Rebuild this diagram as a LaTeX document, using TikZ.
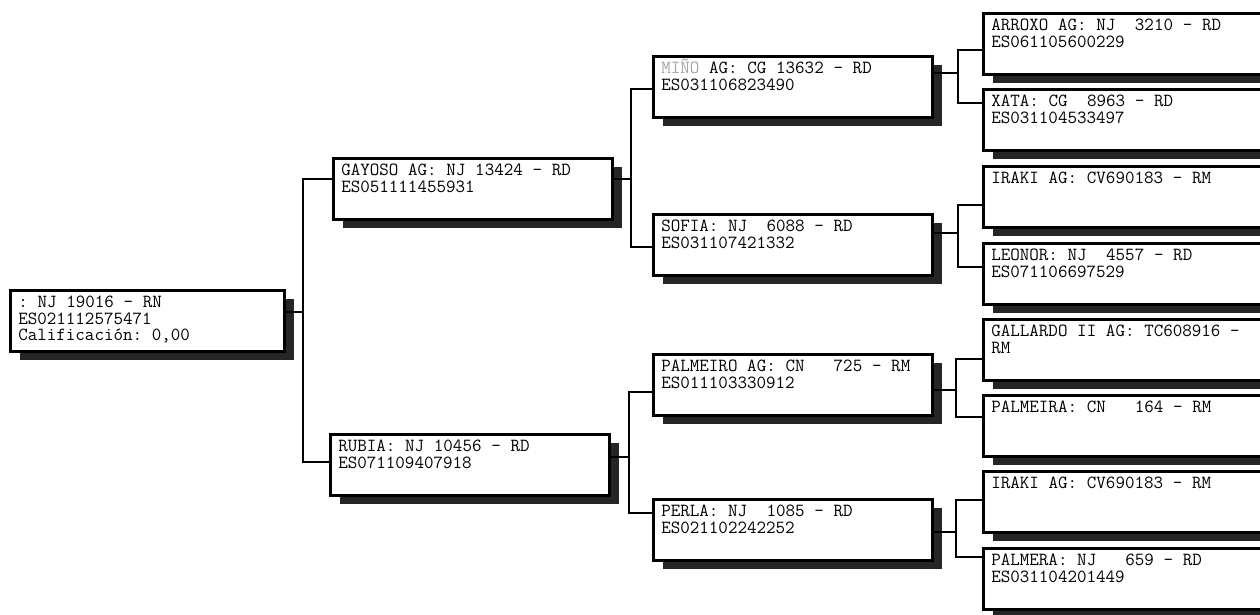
\documentclass[tikz,border=0pt]{standalone}
\usetikzlibrary{shadows}
\newcommand{\letraficha}{\ttfamily\fontsize{18.5}{16.7}\selectfont}
\newcommand{\espacioficha}{\spaceskip=0.525em\relax\xspaceskip=0.525em\relax}
\begin{document}
\begin{tikzpicture}[x=1pt,y=-1pt,line join=miter,every node/.style={font=\letraficha},
	ficha/.style={draw=black,line width=2.6pt,fill=white,anchor=north west,align=left,inner xsep=8pt,inner ysep=6pt,text width=#1,text height=11pt,text depth=38pt,execute at begin node=\espacioficha,drop shadow={shadow xshift=10pt,shadow yshift=-9pt,fill=black!85,opacity=1}},
	ficha/.default=263pt,
	rama/.style={line width=2pt}]
	\useasboundingbox (0,0) rectangle (1260,614);
	\clip (0,0) rectangle (1260,614);
	% animal
	\node[ficha=258pt] (raiz) at (9,289) {: NJ 19016 - RN\\ES021112575471\\Calificación: 0,00};
	% padres
	\node[ficha] (padre) at (332,157) {GAYOSO AG: NJ 13424 - RD\\ES051111455931};
	\node[ficha] (madre) at (329,433) {RUBIA: NJ 10456 - RD\\ES071109407918};
	% abuelos
	\node[ficha] (abPP) at (652,55) {{\color{gray!70}MIÑO} AG: CG 13632 - RD\\ES031106823490};
	\node[ficha] (abPM) at (652,213) {SOFIA: NJ~~6088 - RD\\ES031107421332};
	\node[ficha] (abMP) at (652,353) {PALMEIRO AG: CN~~~725 - RM\\ES011103330912};
	\node[ficha] (abMM) at (652,498) {PERLA: NJ~~1085 - RD\\ES021102242252};
	% bisabuelos
	\node[ficha=330pt] (bis1) at (982,12) {ARROXO AG: NJ~~3210 - RD\\ES061105600229};
	\node[ficha=330pt] (bis2) at (982,88) {XATA: CG~~8963 - RD\\ES031104533497};
	\node[ficha=330pt] (bis3) at (982,165) {IRAKI AG: CV690183 - RM};
	\node[ficha=330pt] (bis4) at (982,242) {LEONOR: NJ~~4557 - RD\\ES071106697529};
	\node[ficha=330pt] (bis5) at (982,318) {GALLARDO II AG: TC608916 -\\RM};
	\node[ficha=330pt] (bis6) at (982,394) {PALMEIRA: CN~~~164 - RM};
	\node[ficha=330pt] (bis7) at (982,470) {IRAKI AG: CV690183 - RM};
	\node[ficha=330pt] (bis8) at (982,547) {PALMERA: NJ~~~659 - RD\\ES031104201449};
	% lineas
	\draw[rama] ([yshift=-23pt]raiz.north east) -- ++(17,0) |- ([yshift=-22pt]padre.north west);
	\draw[rama] ([yshift=-23pt]raiz.north east) -- ++(17,0) |- ([yshift=-29pt]madre.north west);
	\draw[rama] ([yshift=-22pt]padre.north east) -- ++(17,0) |- ([yshift=-34pt]abPP.north west);
	\draw[rama] ([yshift=-22pt]padre.north east) -- ++(17,0) |- ([yshift=-34pt]abPM.north west);
	\draw[rama] ([yshift=-24pt]madre.north east) -- ++(18,0) |- ([yshift=-39pt]abMP.north west);
	\draw[rama] ([yshift=-24pt]madre.north east) -- ++(18,0) |- ([yshift=-15pt]abMM.north west);
	\draw[rama] ([yshift=-18pt]abPP.north east) -- ++(24,0) |- ([yshift=-38pt]bis1.north west);
	\draw[rama] ([yshift=-18pt]abPP.north east) -- ++(24,0) |- ([yshift=-15pt]bis2.north west);
	\draw[rama] ([yshift=-20pt]abPM.north east) -- ++(24,0) |- ([yshift=-40pt]bis3.north west);
	\draw[rama] ([yshift=-20pt]abPM.north east) -- ++(24,0) |- ([yshift=-25pt]bis4.north west);
	\draw[rama] ([yshift=-37pt]abMP.north east) -- ++(22,0) |- ([yshift=-41pt]bis5.north west);
	\draw[rama] ([yshift=-37pt]abMP.north east) -- ++(22,0) |- ([yshift=-23pt]bis6.north west);
	\draw[rama] ([yshift=-34pt]abMM.north east) -- ++(22,0) |- ([yshift=-30pt]bis7.north west);
	\draw[rama] ([yshift=-34pt]abMM.north east) -- ++(22,0) |- ([yshift=-10pt]bis8.north west);
\end{tikzpicture}
\end{document}
